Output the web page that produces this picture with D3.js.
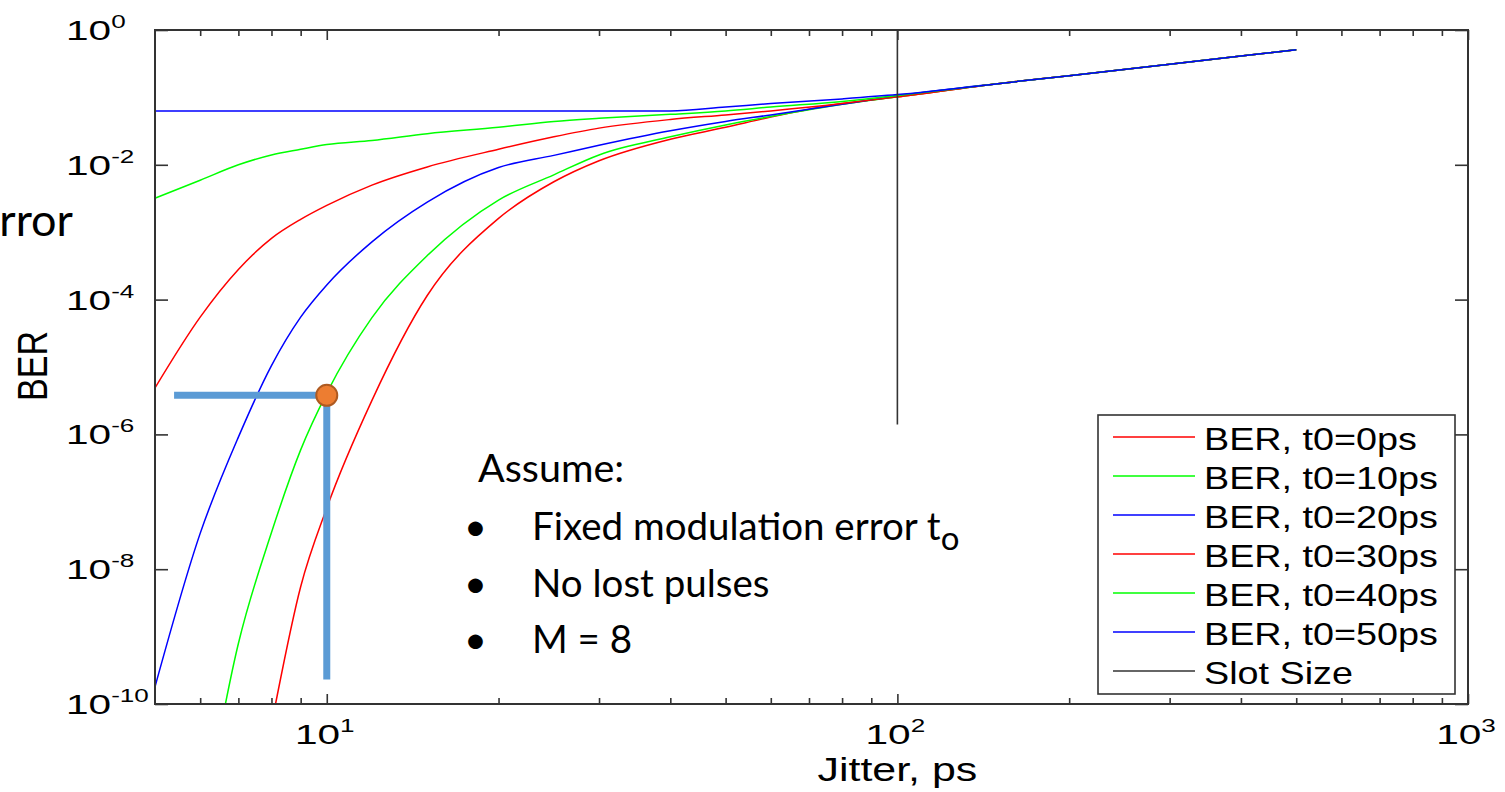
<!DOCTYPE html>
<html lang="en">
<head>
  <meta charset="UTF-8">
  <title>BER vs jitter</title>
  <script src="https://d3js.org/d3.v7.min.js"></script>
  <style>
    body { margin: 0; background: #fff; }
    svg { display: block; }
  </style>
</head>
<body>
  <script>
    const width = 1505, height = 792;

    // jitter (ps) sample points shared by every curve
    const jitter = [5, 6, 7, 8, 9, 10, 12, 15, 20, 25, 30, 40, 50, 60, 80, 100, 150, 200, 300, 400, 500];

    // BER (null = below the plot)
    const berT0_0  = [null, null, 1.3e-13, 5.0e-11, 5.5e-9, 8.1e-8, 3.2e-6, 1.15e-4, 1.6e-3, 5.6e-3, 0.0115, 0.024, 0.036, 0.051, 0.081, 0.102, 0.16, 0.21, 0.31, 0.41, 0.51];
    const berT0_10 = [null, 1.0e-12, 7.9e-10, 3.5e-8, 5.9e-7, 4.1e-6, 5.4e-5, 4.5e-4, 3.0e-3, 7.1e-3, 0.014, 0.026, 0.039, 0.052, 0.079, 0.102, 0.16, 0.21, 0.31, 0.41, 0.51];
    const berT0_20 = [1.8e-10, 3.4e-8, 9.1e-7, 1.05e-5, 5.5e-5, 1.65e-4, 7.2e-4, 2.8e-3, 9.1e-3, 0.0138, 0.0195, 0.032, 0.044, 0.055, 0.079, 0.105, 0.16, 0.21, 0.31, 0.41, 0.51];
    const berT0_30 = [4.9e-6, 5.5e-5, 2.8e-4, 8.1e-4, 1.55e-3, 2.5e-3, 5.0e-3, 9.3e-3, 0.017, 0.026, 0.035, 0.047, 0.055, 0.063, 0.081, 0.102, 0.16, 0.21, 0.31, 0.41, 0.51];
    const berT0_40 = [3.2e-3, 5.9e-3, 0.010, 0.014, 0.017, 0.020, 0.023, 0.029, 0.036, 0.044, 0.049, 0.056, 0.063, 0.072, 0.087, 0.107, 0.16, 0.21, 0.31, 0.41, 0.51];
    const berT0_50 = [0.063, 0.063, 0.063, 0.063, 0.063, 0.063, 0.063, 0.063, 0.063, 0.063, 0.063, 0.063, 0.072, 0.081, 0.095, 0.11, 0.16, 0.21, 0.31, 0.41, 0.51];

    const seriesNames = ['BER, t0=0ps', 'BER, t0=10ps', 'BER, t0=20ps', 'BER, t0=30ps', 'BER, t0=40ps', 'BER, t0=50ps', 'Slot Size'];
    const seriesColors = ['#ff0000', '#00ff00', '#0000ff', '#ff0000', '#00ff00', '#0000ff', '#333333'];
    const seriesValues = [berT0_0, berT0_10, berT0_20, berT0_30, berT0_40, berT0_50];

    // slot size marker line
    const slotJitter = 100;
    const slotBer = [1, 1.4e-6];

    // axis ticks
    const xMajor = [10, 100, 1000];
    const xMinor = [6, 7, 8, 9, 20, 30, 40, 50, 60, 70, 80, 90, 200, 300, 400, 500, 600, 700, 800, 900];
    const yMajor = [1e-10, 1e-8, 1e-6, 1e-4, 1e-2, 1];

    // highlighted operating point (10 ps, ~3.8e-6)
    const markJitter = 10, markBer = 3.8e-6;
    const guideStartJitter = 5.4, guideEndBer = 2.3e-10;

    const noteTitle = 'Assume:';
    const noteLines = ['Fixed modulation error t', 'No lost pulses', 'M = 8'];

    const plotLeft = 155, plotRight = 1468, plotTop = 30, plotBottom = 704;

    const x = d3.scaleLog().domain([5, 1000]).range([plotLeft, plotRight]);
    const y = d3.scaleLog().domain([1e-10, 1]).range([plotBottom, plotTop]);

    const svg = d3.select('body')
      .append('svg')
      .attr('width', width)
      .attr('height', height);

    const axisColor = '#333';
    const mFont = '"Liberation Sans", Arial, Helvetica, sans-serif';
    const pFont = 'Lato, "Open Sans", sans-serif';

    svg.append('clipPath').attr('id', 'plot-clip')
      .append('rect')
      .attr('x', plotLeft).attr('y', plotTop)
      .attr('width', plotRight - plotLeft).attr('height', plotBottom - plotTop);

    // curves
    const line = d3.line()
      .defined(d => d[1] != null)
      .x(d => x(d[0]))
      .y(d => y(d[1]))
      .curve(d3.curveMonotoneX);

    const curves = svg.append('g').attr('clip-path', 'url(#plot-clip)');
    seriesValues.forEach((vals, i) => {
      curves.append('path')
        .datum(jitter.map((j, k) => [j, vals[k]]))
        .attr('fill', 'none')
        .attr('stroke', seriesColors[i])
        .attr('stroke-width', 1.5)
        .attr('d', line);
    });

    // slot size line
    svg.append('line')
      .attr('x1', x(slotJitter)).attr('x2', x(slotJitter))
      .attr('y1', y(slotBer[0])).attr('y2', y(slotBer[1]))
      .attr('stroke', axisColor)
      .attr('stroke-width', 1.6);

    // axes (ticks inward, mirrored)
    function styleAxis(g) {
      g.select('.domain').remove();
      g.selectAll('.tick line').attr('stroke', axisColor).attr('stroke-width', 1.6);
      g.selectAll('.tick text').remove();
    }
    svg.append('g').attr('transform', `translate(0,${plotBottom})`)
      .call(d3.axisBottom(x).tickValues(xMajor).tickSize(-10)).call(styleAxis);
    svg.append('g').attr('transform', `translate(0,${plotBottom})`)
      .call(d3.axisBottom(x).tickValues(xMinor).tickSize(-6)).call(styleAxis);
    svg.append('g').attr('transform', `translate(0,${plotTop})`)
      .call(d3.axisTop(x).tickValues(xMajor).tickSize(-10)).call(styleAxis);
    svg.append('g').attr('transform', `translate(0,${plotTop})`)
      .call(d3.axisTop(x).tickValues(xMinor).tickSize(-6)).call(styleAxis);
    svg.append('g').attr('transform', `translate(${plotLeft},0)`)
      .call(d3.axisLeft(y).tickValues(yMajor).tickSize(-13)).call(styleAxis);
    svg.append('g').attr('transform', `translate(${plotRight},0)`)
      .call(d3.axisRight(y).tickValues(yMajor).tickSize(-13)).call(styleAxis);

    svg.append('rect')
      .attr('x', plotLeft).attr('y', plotTop)
      .attr('width', plotRight - plotLeft).attr('height', plotBottom - plotTop)
      .attr('fill', 'none')
      .attr('stroke', axisColor)
      .attr('stroke-width', 2);

    // tick labels 10^n (stretched like the original bitmap)
    function powLabel(g, exp, anchor) {
      const t = g.append('text')
        .attr('font-family', mFont)
        .attr('font-size', 28)
        .attr('fill', '#000')
        .attr('text-anchor', anchor);
      t.append('tspan').text('10');
      t.append('tspan').attr('font-size', 18).attr('dy', -12).text(exp);
    }
    yMajor.forEach(v => {
      const g = svg.append('g')
        .attr('transform', `translate(66,${y(v) + 10}) scale(1.45,1)`);
      powLabel(g, String(Math.round(Math.log10(v))), 'start');
    });
    xMajor.forEach(v => {
      const g = svg.append('g')
        .attr('transform', `translate(${x(v) - 2},744) scale(1.45,1)`);
      powLabel(g, String(Math.round(Math.log10(v))), 'middle');
    });

    // axis titles
    svg.append('text')
      .attr('transform', 'translate(47,366) scale(1.27,1) rotate(-90)')
      .attr('text-anchor', 'middle')
      .attr('font-family', mFont)
      .attr('font-size', 34)
      .text('BER');

    svg.append('text')
      .attr('transform', `translate(${x(100)},781) scale(1.3,1)`)
      .attr('text-anchor', 'middle')
      .attr('font-family', mFont)
      .attr('font-size', 33)
      .text('Jitter, ps');

    // legend
    const lg = svg.append('g');
    lg.append('rect')
      .attr('x', 1098).attr('y', 415)
      .attr('width', 357).attr('height', 279)
      .attr('fill', '#fff')
      .attr('stroke', axisColor)
      .attr('stroke-width', 1.6);
    seriesNames.forEach((name, i) => {
      const cy = 437 + i * 39;
      lg.append('line')
        .attr('x1', 1113).attr('x2', 1195)
        .attr('y1', cy).attr('y2', cy)
        .attr('stroke', seriesColors[i])
        .attr('stroke-width', 1.5);
      lg.append('text')
        .attr('transform', `translate(1204,${cy + 12.5}) scale(1.18,1)`)
        .attr('font-family', mFont)
        .attr('font-size', 32)
        .text(name);
    });

    // guide bars and operating point
    const guideColor = '#5b9bd5';
    svg.append('line')
      .attr('x1', x(guideStartJitter)).attr('x2', x(markJitter))
      .attr('y1', y(markBer)).attr('y2', y(markBer))
      .attr('stroke', guideColor).attr('stroke-width', 7);
    svg.append('line')
      .attr('x1', x(markJitter)).attr('x2', x(markJitter))
      .attr('y1', y(markBer)).attr('y2', y(guideEndBer))
      .attr('stroke', guideColor).attr('stroke-width', 7);
    svg.append('circle')
      .attr('cx', x(markJitter)).attr('cy', y(markBer))
      .attr('r', 10.5)
      .attr('fill', '#ed7d31')
      .attr('stroke', '#ae5a21')
      .attr('stroke-width', 2);

    // slide text (partly off the left edge, as in the slide)
    svg.append('text')
      .attr('x', 73).attr('y', 236)
      .attr('text-anchor', 'end')
      .attr('font-family', pFont)
      .attr('font-size', 45)
      .text('error');

    svg.append('text')
      .attr('x', 478).attr('y', 482)
      .attr('font-family', pFont)
      .attr('font-size', 39.5)
      .text(noteTitle);
    noteLines.forEach((s, i) => {
      const by = 540 + i * 56.5;
      svg.append('text')
        .attr('x', 464).attr('y', by)
        .attr('font-family', pFont)
        .attr('font-size', 39.5)
        .text('\u2022');
      const t = svg.append('text')
        .attr('x', 532).attr('y', by)
        .attr('font-family', pFont)
        .attr('font-size', 38.5)
        .text(s);
      if (i === 0) {
        t.append('tspan').attr('font-size', 33).attr('dy', 10).text('o');
      }
    });
  </script>
</body>
</html>
